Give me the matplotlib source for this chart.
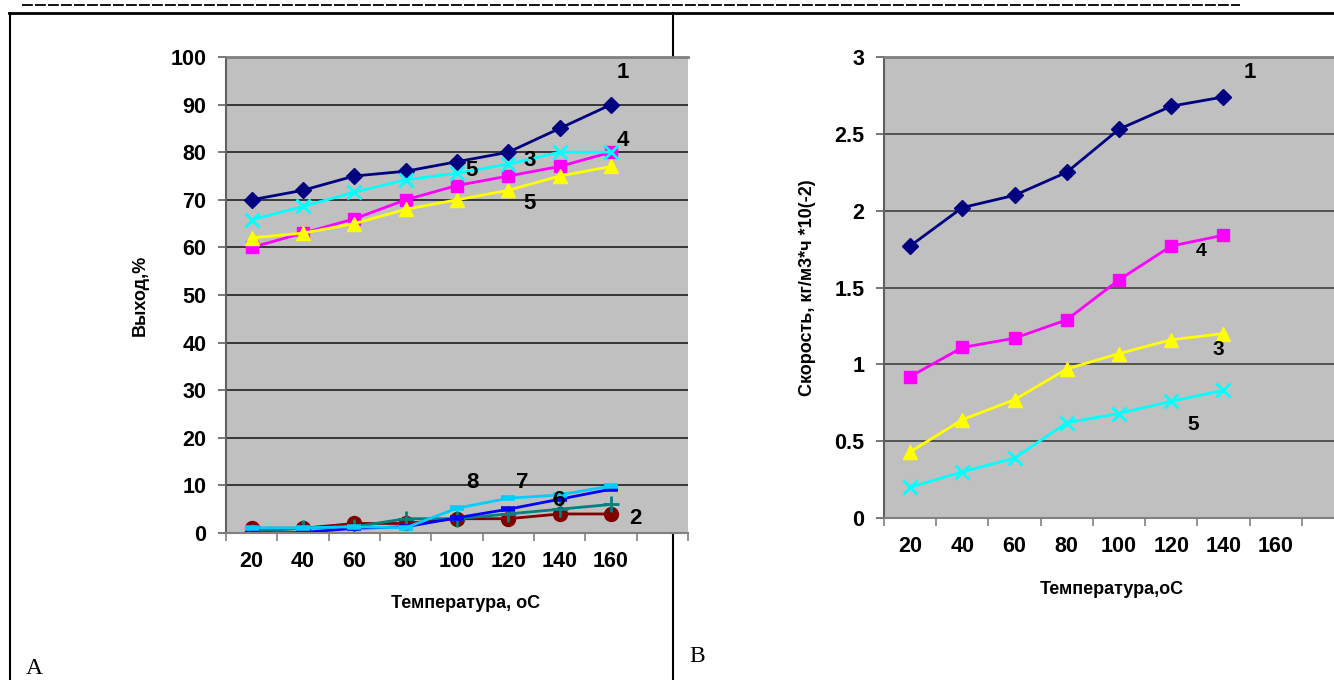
import matplotlib
matplotlib.use("Agg")
import matplotlib.pyplot as plt
from matplotlib.lines import Line2D

W, H = 1334, 680

# ---- data: chart A (yield, %) ----
temps_a = ["20", "40", "60", "80", "100", "120", "140", "160"]
a_s1 = [70, 72, 75, 76, 78, 80, 85, 90]
a_s4 = [60, 63, 66, 70, 73, 75, 77, 80]
a_s3 = [62, 63, 65, 68, 70, 72, 75, 77]
a_s5 = [65.8, 68.6, 71.6, 74.2, 75.6, 77.5, 80, 80]
a_s2 = [1, 1, 2, 2, 3, 3, 4, 4]
a_s6 = [0.3, 1, 1.3, 3, 3, 4, 5, 6]
a_s7 = [0, 0.1, 1, 1.3, 3.2, 5, 7.1, 9.2]
a_s8 = [1.1, 1.1, 1.3, 1.1, 5.2, 7.3, 8, 9.9]

# ---- data: chart B (rate, kg/m3*h *10(-2)) ----
temps_b = ["20", "40", "60", "80", "100", "120", "140", "160"]
b_s1 = [1.77, 2.02, 2.10, 2.25, 2.53, 2.68, 2.74]
b_s4 = [0.92, 1.11, 1.17, 1.29, 1.55, 1.77, 1.84]
b_s3 = [0.43, 0.64, 0.77, 0.97, 1.07, 1.16, 1.20]
b_s5 = [0.20, 0.30, 0.39, 0.62, 0.68, 0.76, 0.83]

plt.rcParams["font.family"] = ["Liberation Sans", "DejaVu Sans"]

fig = plt.figure(figsize=(W / 100, H / 100), dpi=100)


def box(x0, y0, x1, y1):
    return [x0 / W, 1 - y1 / H, (x1 - x0) / W, (y1 - y0) / H]


def fx(x):
    return x / W


def fy(y):
    return 1 - y / H


# page frame (table borders)
fig.add_artist(Line2D([fx(22), fx(1240)], [fy(5), fy(5)], color="black", lw=1.3,
                      linestyle=(0, (6, 1.2)), zorder=-1))
fig.add_artist(Line2D([fx(9), fx(1334)], [fy(13), fy(13)], color="black", lw=2.0, zorder=-1))
fig.add_artist(Line2D([fx(10), fx(10)], [fy(13), fy(680)], color="black", lw=1.5, zorder=-1))
fig.add_artist(Line2D([fx(673), fx(673)], [fy(13), fy(680)], color="black", lw=1.5, zorder=-1))

GRAY = "#C0C0C0"


def style_axes(ax, n_slots, labels, grid_color):
    ax.set_facecolor(GRAY)
    ax.set_xlim(0, n_slots)
    ax.set_xticks(range(n_slots + 1))
    ax.set_xticklabels([])
    ax.set_xticks([i + 0.5 for i in range(len(labels))], minor=True)
    ax.set_xticklabels(labels, minor=True, fontsize=15.5, fontweight="bold")
    ax.tick_params(axis="x", which="minor", length=0, pad=13)
    ax.tick_params(axis="x", which="major", length=6, color="#808080", width=1.2)
    ax.tick_params(axis="y", length=6, color="#606060", width=1.2, labelsize=15.5, pad=8)
    for lab in ax.get_yticklabels():
        lab.set_fontweight("bold")
    ax.yaxis.grid(True, color=grid_color, lw=1.2)
    ax.set_axisbelow(True)
    ax.spines["right"].set_visible(False)
    ax.spines["top"].set_color("#808080")
    ax.spines["top"].set_linewidth(2)
    ax.spines["left"].set_color("#606060")
    ax.spines["left"].set_linewidth(1.5)
    ax.spines["bottom"].set_color("#808080")
    ax.spines["bottom"].set_linewidth(1.5)


# ---------------- chart A ----------------
axa = fig.add_axes(box(226, 57, 688, 533))
xa = [i + 0.5 for i in range(len(temps_a))]
axa.set_ylim(0, 100)
axa.set_yticks(range(0, 101, 10))
axa.plot(xa, a_s2, color="#800000", lw=2, marker="o", ms=10)
axa.plot(xa, a_s6, color="#008080", lw=2, marker="+", ms=12, mew=2)
axa.plot(xa, a_s7, color="#0000FF", lw=2, marker="_", ms=10, mew=4)
axa.plot(xa, a_s8, color="#00CCFF", lw=2, marker="_", ms=10, mew=4)
axa.plot(xa, a_s1, color="#000080", lw=2, marker="D", ms=8)
axa.plot(xa, a_s4, color="#FF00FF", lw=2, marker="s", ms=9)
axa.plot(xa, a_s3, color="#FFFF00", lw=2, marker="^", ms=10)
axa.plot(xa, a_s5, color="#00FFFF", lw=2, marker="x", ms=10, mew=2)
style_axes(axa, 9, temps_a, "#202020")

# series numbers on chart A
for txt, x, y in [("1", 623, 72), ("4", 623, 140), ("3", 530, 160), ("5", 472, 171),
                  ("5", 530, 203), ("8", 472, 482), ("7", 522, 482), ("6", 558, 501),
                  ("2", 635, 518)]:
    fig.text(fx(x), fy(y), txt, fontsize=16, fontweight="bold", ha="center", va="center")

fig.text(fx(140), fy(295), "Выход,%", rotation=90, fontsize=13, fontweight="bold",
         ha="center", va="center")
fig.text(fx(466), fy(603), "Температура, оС", fontsize=13, fontweight="bold",
         ha="center", va="center")

# ---------------- chart B ----------------
axb = fig.add_axes(box(884, 57, 1354, 518))
xb = [i + 0.5 for i in range(len(b_s1))]
axb.set_ylim(0, 3)
axb.set_yticks([0, 0.5, 1, 1.5, 2, 2.5, 3])
axb.set_yticklabels(["0", "0.5", "1", "1.5", "2", "2.5", "3"])
axb.plot(xb, b_s1, color="#000080", lw=2, marker="D", ms=8)
axb.plot(xb, b_s4, color="#FF00FF", lw=2, marker="s", ms=9)
axb.plot(xb, b_s3, color="#FFFF00", lw=2, marker="^", ms=10)
axb.plot(xb, b_s5, color="#00FFFF", lw=2, marker="x", ms=10, mew=2)
style_axes(axb, 9, temps_b, "#404040")

for txt, x, y, size in [("1", 1250, 72, 16), ("4", 1201, 252, 14), ("3", 1218, 350, 15),
                        ("5", 1193, 425, 15)]:
    fig.text(fx(x), fy(y), txt, fontsize=size, fontweight="bold", ha="center", va="center")

fig.text(fx(808), fy(288), "Скорость, кг/м3*ч *10(-2)", rotation=90, fontsize=13,
         fontweight="bold", ha="center", va="center")
fig.text(fx(1112), fy(590), "Температура,оС", fontsize=13, fontweight="bold",
         ha="center", va="center")

# panel letters
fig.text(fx(34), fy(668), "A", family=["Liberation Serif", "DejaVu Serif"], fontsize=17,
         ha="center", va="center")
fig.text(fx(697), fy(656), "B", family=["Liberation Serif", "DejaVu Serif"], fontsize=17,
         ha="center", va="center")

fig.savefig("out.png", dpi=100)
